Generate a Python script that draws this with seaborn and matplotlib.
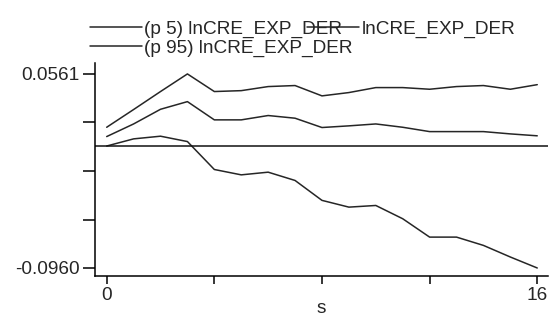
import pandas as pd
import seaborn as sns
import matplotlib.pyplot as plt

# ======| Data |======

passos = list(range(17))

p95 = [0.0143, 0.0282, 0.0423, 0.0561, 0.0423, 0.0430, 0.0462, 0.0470, 0.0389,
       0.0415, 0.0454, 0.0454, 0.0441, 0.0462, 0.0470, 0.0441, 0.0477]
estimativa = [0.0070, 0.0169, 0.0284, 0.0344, 0.0201, 0.0201, 0.0235, 0.0214,
              0.0141, 0.0154, 0.0169, 0.0143, 0.0109, 0.0109, 0.0109, 0.0091, 0.0076]
p5 = [-0.0004, 0.0052, 0.0073, 0.0031, -0.0188, -0.0230, -0.0209, -0.0274,
      -0.0430, -0.0483, -0.0470, -0.0574, -0.0718, -0.0718, -0.0783, -0.0874, -0.0960]

rotulos = ["(p 5) lnCRE_EXP_DER", "(p 95) lnCRE_EXP_DER", "lnCRE_EXP_DER"]

y_ticks = [0.0561, 0.0181, -0.0200, -0.0580, -0.0960]
y_rotulos = ["0.0561", "", "", "", "-0.0960"]
x_ticks = [0, 4, 8, 12, 16]
x_rotulos = ["0", "", "", "", "16"]

dados = pd.DataFrame({
    "s": passos * 3,
    "valor": p5 + p95 + estimativa,
    "serie": [rotulos[0]] * 17 + [rotulos[1]] * 17 + [rotulos[2]] * 17,
})

# ======| Plot |======

sns.set_style("ticks")
plt.rcParams["font.family"] = ["Liberation Sans", "DejaVu Sans"]
fonte = 13.7

fig = plt.figure(figsize=(5.5, 3.18), dpi=100)
ax = fig.add_axes([0.1727, 0.132, 0.8237, 0.670])

sns.lineplot(
    data=dados, x="s", y="valor", hue="serie", hue_order=rotulos,
    palette=["#262626"] * 3, linewidth=1.1, ax=ax, legend=True,
)
ax.axhline(0, color="#111111", linewidth=1.1)

ax.set_xlim(-0.435, 16.4)
ax.set_ylim(-0.1023, 0.0647)
ax.set_yticks(y_ticks)
ax.set_yticklabels(y_rotulos)
ax.set_xticks(x_ticks)
ax.set_xticklabels(x_rotulos)
ax.tick_params(axis="y", length=9, width=1.1, labelsize=fonte, pad=2, color="black")
ax.tick_params(axis="x", length=6, width=1.1, labelsize=fonte, pad=2, color="black")
ax.set_xlabel("s", fontsize=fonte, labelpad=-3)
ax.set_ylabel("")
sns.despine(ax=ax)
for lado in ["left", "bottom"]:
    ax.spines[lado].set_linewidth(1.1)
    ax.spines[lado].set_color("black")

handles, labels = ax.get_legend_handles_labels()
ax.legend(
    handles, labels, ncol=2, frameon=False, fontsize=fonte,
    loc="upper left", bbox_to_anchor=(73 / 550, 1 - 3 / 318), bbox_transform=fig.transFigure,
    handlelength=2.7, handletextpad=0.15, columnspacing=-2.4,
    labelspacing=0.1, borderpad=0.9, borderaxespad=0,
)

fig.savefig("out.png", dpi=100)
